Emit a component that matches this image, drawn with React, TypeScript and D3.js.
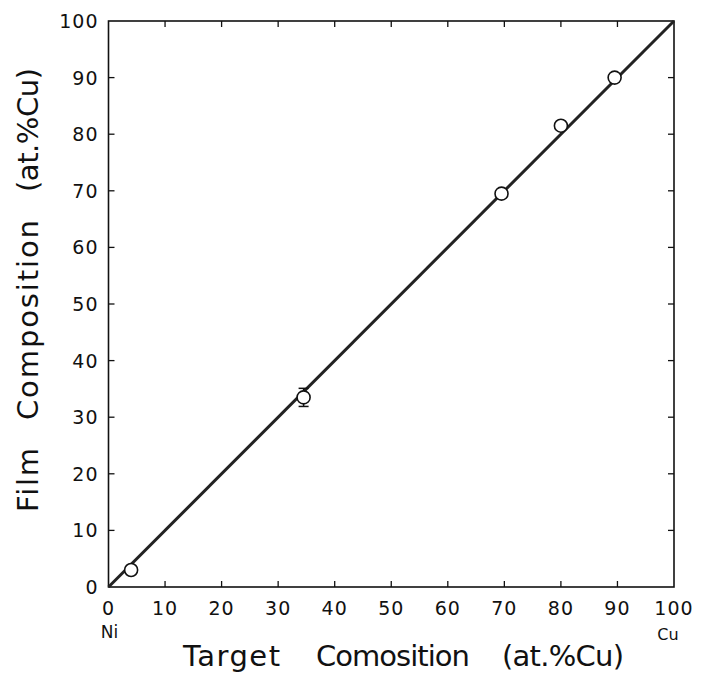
import React, { useEffect, useRef } from "react";
import * as d3 from "d3";

// measured points (target at.%Cu vs film at.%Cu)
const targetComp = [4, 34.5, 69.5, 80, 89.5];
const filmComp = [3, 33.5, 69.5, 81.5, 90];
const filmErr = [0, 1.6, 0, 0, 0];
const tickValues = [0, 10, 20, 30, 40, 50, 60, 70, 80, 90, 100];
const fitLine = [0, 100];
const xTitleWords = ["Target", "Comosition", "(at.%Cu)"];
const yTitleWords = ["Film", "Composition", "(at.%Cu)"];

const App = () => {
  const ref = useRef<SVGSVGElement | null>(null);

  useEffect(() => {
    const svg = d3.select(ref.current);
    svg.selectAll("*").remove();

    const left = 108.5, right = 674, top = 21, bottom = 587;
    const font = "'DejaVu Sans', sans-serif";

    const x = d3.scaleLinear().domain([0, 100]).range([left, right]);
    const y = d3.scaleLinear().domain([0, 100]).range([bottom, top]);

    // frame
    svg.append("rect")
      .attr("x", left).attr("y", top)
      .attr("width", right - left).attr("height", bottom - top)
      .attr("fill", "none").attr("stroke", "#111").attr("stroke-width", 1.6);

    const tickLen = 6;
    const g = svg.append("g").attr("stroke", "#111").attr("stroke-width", 1.3);
    tickValues.slice(1, -1).forEach(t => {
      g.append("line").attr("x1", x(t)).attr("x2", x(t)).attr("y1", bottom).attr("y2", bottom - tickLen);
      g.append("line").attr("x1", x(t)).attr("x2", x(t)).attr("y1", top).attr("y2", top + tickLen);
      g.append("line").attr("y1", y(t)).attr("y2", y(t)).attr("x1", left).attr("x2", left + tickLen);
      g.append("line").attr("y1", y(t)).attr("y2", y(t)).attr("x1", right).attr("x2", right - tickLen);
    });

    // tick labels
    svg.append("g").selectAll("text").data(tickValues).join("text")
      .attr("x", d => x(d)).attr("y", bottom + 28)
      .attr("text-anchor", "middle")
      .style("font-family", font).style("font-size", "19px").style("letter-spacing", "1px")
      .attr("fill", "#111")
      .text(d => d);

    svg.append("g").selectAll("text").data(tickValues).join("text")
      .attr("x", left - 10).attr("y", d => y(d) + 7)
      .attr("text-anchor", "end")
      .style("font-family", font).style("font-size", "19px").style("letter-spacing", "1px")
      .attr("fill", "#111")
      .text(d => d);

    svg.append("text").attr("x", x(0) + 1).attr("y", bottom + 51)
      .attr("text-anchor", "middle")
      .style("font-family", font).style("font-size", "17px").attr("fill", "#111")
      .text("Ni");
    svg.append("text").attr("x", x(100) - 6).attr("y", bottom + 53)
      .attr("text-anchor", "middle")
      .style("font-family", font).style("font-size", "16px").attr("fill", "#111")
      .text("Cu");

    // axis titles, word by word (wide word gaps in the original)
    const xWordStart = [183, 316, 502];
    const xWordLen = [97, 154, 122];
    svg.append("g").selectAll("text").data(xTitleWords).join("text")
      .attr("x", (d, i) => xWordStart[i]).attr("y", 666)
      .attr("textLength", (d, i) => xWordLen[i]).attr("lengthAdjust", "spacing")
      .style("font-family", font).style("font-size", "29px").attr("fill", "#111")
      .text(d => d);

    const yWordStart = [512, 420, 192];
    const yWordLen = [64, 200, 124];
    svg.append("g").selectAll("text").data(yTitleWords).join("text")
      .attr("transform", (d, i) => `translate(38,${yWordStart[i]}) rotate(-90)`)
      .attr("textLength", (d, i) => yWordLen[i]).attr("lengthAdjust", "spacing")
      .style("font-family", font).style("font-size", "29px").attr("fill", "#111")
      .text(d => d);

    // y = x line
    svg.append("line")
      .attr("x1", x(fitLine[0])).attr("y1", y(fitLine[0]))
      .attr("x2", x(fitLine[1])).attr("y2", y(fitLine[1]))
      .attr("stroke", "#222").attr("stroke-width", 3);

    const pts = targetComp.map((t, i) => ({ t, f: filmComp[i], e: filmErr[i] }));

    // error bars
    const eb = svg.append("g").attr("stroke", "#111").attr("stroke-width", 1.5);
    pts.filter(p => p.e > 0).forEach(p => {
      eb.append("line").attr("x1", x(p.t)).attr("x2", x(p.t)).attr("y1", y(p.f - p.e)).attr("y2", y(p.f + p.e));
      [p.f - p.e, p.f + p.e].forEach(v => {
        eb.append("line").attr("x1", x(p.t) - 5).attr("x2", x(p.t) + 5).attr("y1", y(v)).attr("y2", y(v));
      });
    });

    svg.append("g").selectAll("circle").data(pts).join("circle")
      .attr("cx", d => x(d.t)).attr("cy", d => y(d.f)).attr("r", 6.5)
      .attr("fill", "#fff").attr("stroke", "#111").attr("stroke-width", 1.6);
  }, []);

  return <svg ref={ref} width={701} height={674} style={{ position: "absolute", left: 0, top: 0, background: "#fff" }} />;
};

export default App;
